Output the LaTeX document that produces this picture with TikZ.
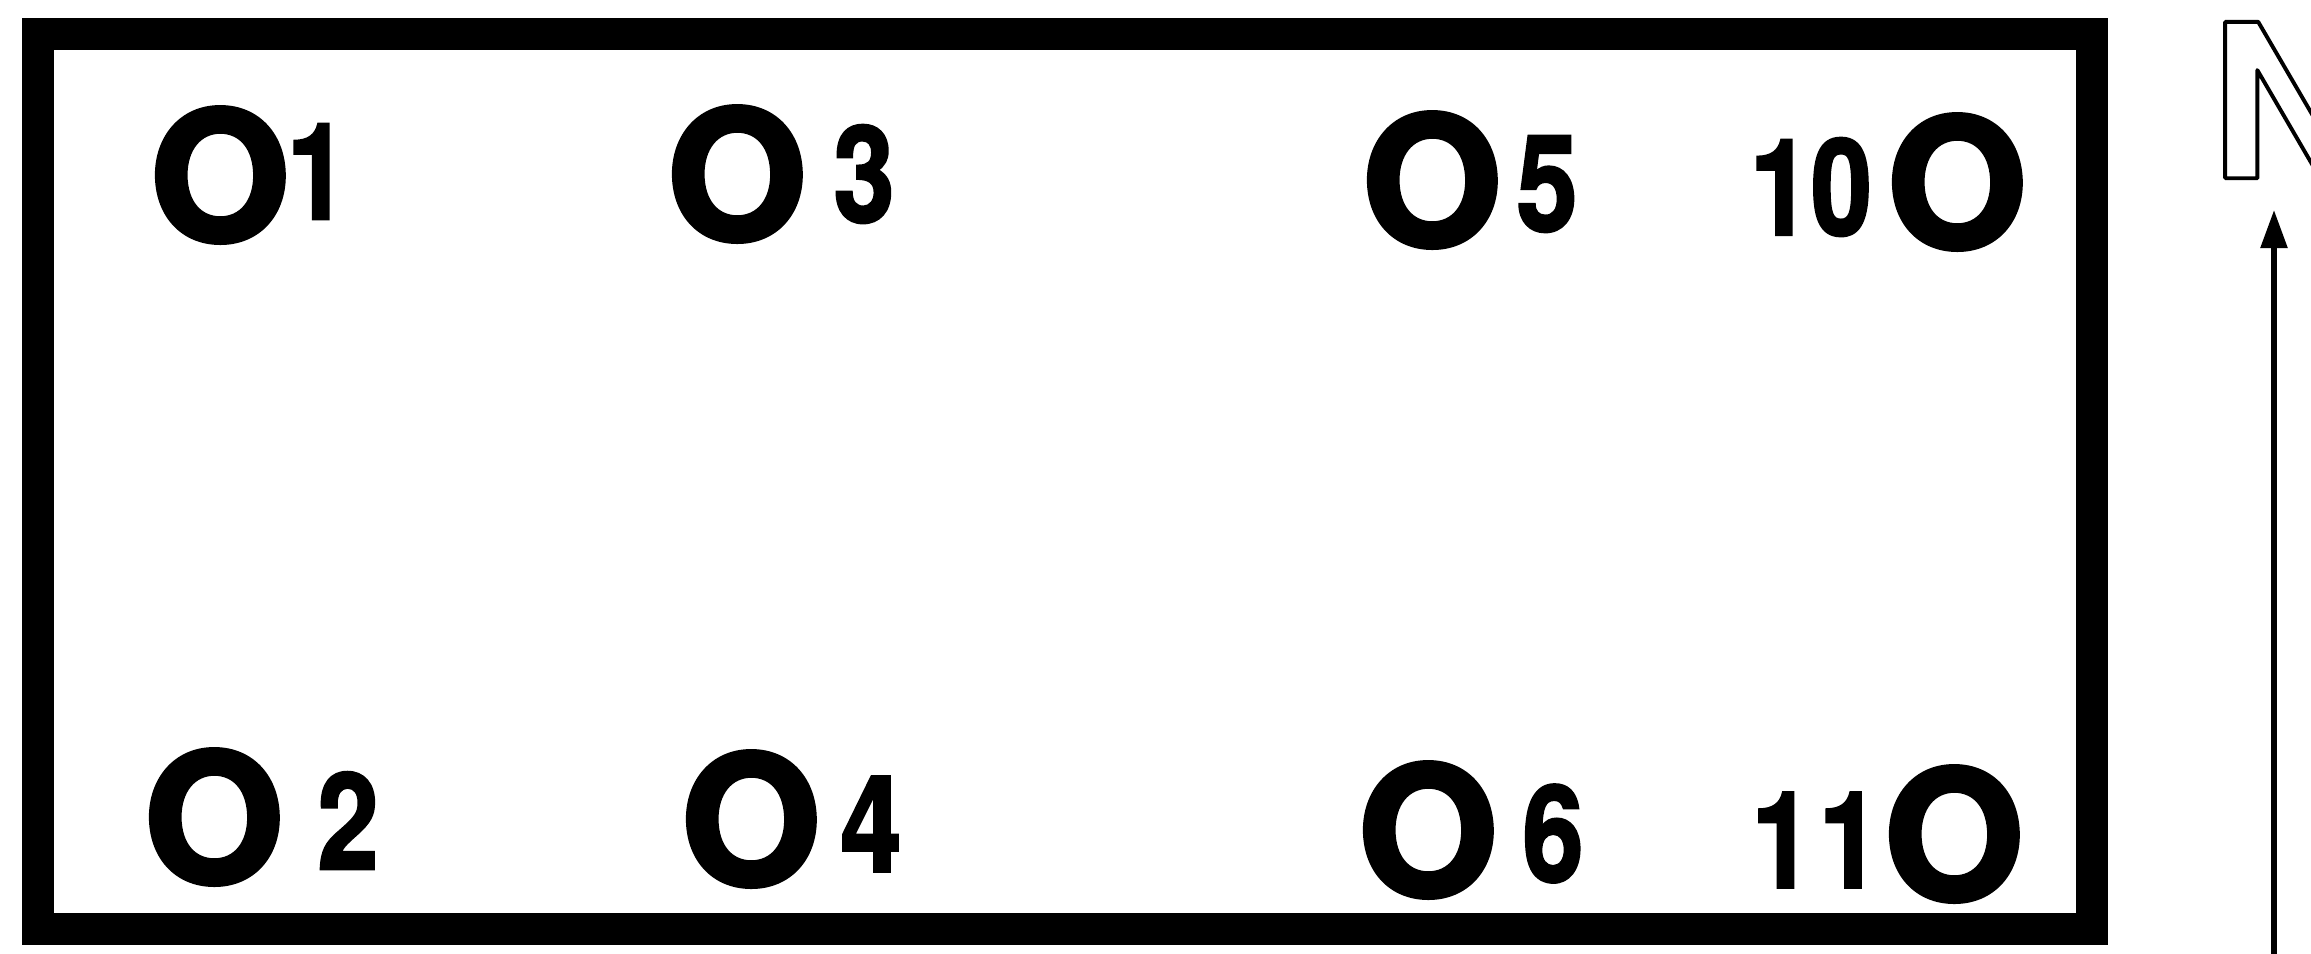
\documentclass[tikz,border=0pt]{standalone}
\usepackage{fontspec}
\setmainfont{texgyreheros}[Extension=.otf, UprightFont=*-regular, BoldFont=*-bold, ItalicFont=*-italic, BoldItalicFont=*-bolditalic]
\usetikzlibrary{arrows.meta}
\tikzset{
  hole/.style={inner sep=0pt, outer sep=0pt, font=\fontsize{50.6}{58}\selectfont\bfseries},
  num/.style={inner sep=0pt, outer sep=0pt, font=\fontsize{38}{45}\selectfont\bfseries},
  frame/.style={line width=0.32cm, line join=miter},
  northlabel/.style={inner sep=0pt, outer sep=0pt, font=\fontsize{61}{70}\selectfont\bfseries},
  northarrow/.style={line width=0.055cm, -{Triangle[length=0.38cm,width=0.26cm]}},
}
% heavier glyphs: fill + stroke text render mode
\newcommand{\heavy}[2]{\special{pdf:literal direct q 2 Tr 0 j #1 w}#2\special{pdf:literal direct Q}}
\newcommand{\holeO}{\heavy{1.7}{\makebox[0.7em]{O}}}
\newcommand{\cnd}[1]{\heavy{0.8}{\scalebox{0.82}[1]{#1}}}
\newcommand{\outlinetext}[1]{\special{pdf:literal direct q 1 Tr 1 j 1.1 w}#1\special{pdf:literal direct Q}}
\begin{document}
\begin{tikzpicture}[x=0.01cm,y=-0.01cm]
\useasboundingbox (0,0) rectangle (2311,953);
\fill[white] (0,0) rectangle (2311,953);
\draw[frame] (38,34) rectangle (2092,929);
% top row
\node[hole] (h1) at (220,175) {\holeO};
\node[num] (n1) at (317.5,171.5) {\cnd{1}};
\node[hole] (h3) at (737,174) {\holeO};
\node[num] (n3) at (864,174) {\cnd{3}};
\node[hole] (h5) at (1432,180) {\holeO};
\node[num] (n5) at (1547,184) {\cnd{5}};
\node[num] (n10) at (1811,187) {\cnd{10}};
\node[hole] (h10) at (1957,182) {\holeO};
% bottom row
\node[hole] (h2) at (214,817) {\holeO};
\node[num] (n2) at (348,820.5) {\cnd{2}};
\node[hole] (h4) at (751,819) {\holeO};
\node[num] (n4) at (871,824) {\cnd{4}};
\node[hole] (h6) at (1428,830) {\holeO};
\node[num] (n6) at (1553,833.5) {\cnd{6}};
\node[num] (n11) at (1816,840) {\cnd{1\kern0.08cm 1}};
\node[hole] (h11) at (1954,834) {\holeO};
% north arrow
\coordinate (arrbase) at (2274,960);
\coordinate (arrtip) at (2274,210);
\draw[northarrow] (arrbase) -- (arrtip);
\node[northlabel] (north) at (2288,100) {\outlinetext{N}};
\end{tikzpicture}
\end{document}
